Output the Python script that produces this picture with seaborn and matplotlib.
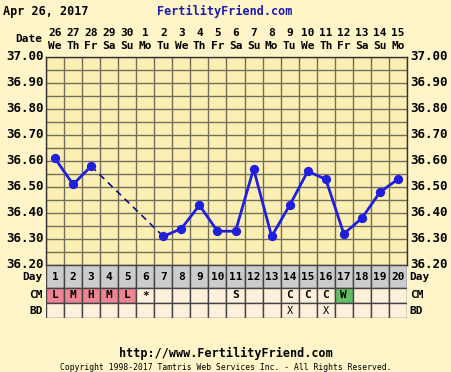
import numpy as np
import pandas as pd
import matplotlib
matplotlib.use('Agg')
import matplotlib.pyplot as plt
import seaborn as sns

# données
jours = list(range(1, 21))
dates = ['26', '27', '28', '29', '30', '1', '2', '3', '4', '5',
         '6', '7', '8', '9', '10', '11', '12', '13', '14', '15']
semaine = ['We', 'Th', 'Fr', 'Sa', 'Su', 'Mo', 'Tu', 'We', 'Th', 'Fr',
           'Sa', 'Su', 'Mo', 'Tu', 'We', 'Th', 'Fr', 'Sa', 'Su', 'Mo']
temp_jours = [1, 2, 3, 7, 8, 9, 10, 11, 12, 13, 14, 15, 16, 17, 18, 19, 20]
temp = [36.61, 36.51, 36.58, 36.31, 36.34, 36.43, 36.33, 36.33, 36.57,
        36.31, 36.43, 36.56, 36.53, 36.32, 36.38, 36.48, 36.53]
cm = ['L', 'M', 'H', 'M', 'L', '*', '', '', '', '', 'S', '', '', 'C', 'C', 'C',
      'W', '', '', '']
bd = ['', '', '', '', '', '', '', '', '', '', '', '', '', 'X', '', 'X', '', '', '', '']
yticks = [36.20, 36.30, 36.40, 36.50, 36.60, 36.70, 36.80, 36.90, 37.00]

fond = '#FFF5C8'
fond_graph = '#FCEFB3'
grille = '#746E5C'
bleu = '#1F1FE0'
cm_couleurs = {'L': '#EE8494', 'M': '#EE8494', 'H': '#EE8494', 'W': '#64C064'}

sns.set_style('white')
plt.rcParams['font.family'] = ['DejaVu Sans Mono', 'DejaVu Sans']
police = {'fontweight': 'bold', 'fontsize': 8, 'color': 'black'}

W, H = 452, 372
fig = plt.figure(figsize=(4.52, 3.72), dpi=100, facecolor=fond)

def px(x0, y0, x1, y1):
    '''position en pixels (haut-gauche) vers fractions de figure'''
    return [x0 / W, 1 - y1 / H, (x1 - x0) / W, (y1 - y0) / H]

# graphique des températures
ax = fig.add_axes(px(46, 57, 407, 265))
ax.set_facecolor(fond_graph)
ax.set_xlim(0.5, 20.5)
ax.set_ylim(36.20, 37.00)
for x in np.arange(0.5, 20.6, 1):
    ax.axvline(x, color=grille, lw=1, zorder=1)
for y in np.arange(36.20, 37.001, 0.05):
    ax.axhline(y, color=grille, lw=1, zorder=1)
for s in ax.spines.values():
    s.set_color('#333333')
    s.set_linewidth(1)
ax.set_xticks([])
ax.set_yticks([])

df = pd.DataFrame({'jour': temp_jours, 'temp': temp})
avant = df[df.jour <= 3]
apres = df[df.jour >= 7]
sns.lineplot(data=avant, x='jour', y='temp', ax=ax, color=bleu, lw=2, zorder=3)
sns.lineplot(data=apres, x='jour', y='temp', ax=ax, color=bleu, lw=2, zorder=3)
trou = df[(df.jour == 3) | (df.jour == 7)]
sns.lineplot(data=trou, x='jour', y='temp', ax=ax, color='#10108A', lw=1.2,
             linestyle=(0, (4, 3)), zorder=3)
sns.scatterplot(data=df, x='jour', y='temp', ax=ax, color=bleu, s=45,
                edgecolor=bleu, linewidth=0, zorder=4)
ax.set_xlabel('')
ax.set_ylabel('')

for v in yticks:
    ax.text(0.35, v, f'{v:.2f}', ha='right', va='center',
            fontweight='bold', fontsize=9, color='black')
    ax.text(20.68, v, f'{v:.2f}', ha='left', va='center',
            fontweight='bold', fontsize=9, color='black')

# dates en haut
for j, d, s in zip(jours, dates, semaine):
    ax.text(j, 37.092, d, ha='center', va='center', **police)
    ax.text(j, 37.043, s, ha='center', va='center', **police)
ax.text(0.3, 37.07, 'Date', ha='right', va='center', **police)

# tableau Day / CM / BD
tb = fig.add_axes(px(46, 265, 407, 318))
tb.set_xlim(0.5, 20.5)
tb.set_ylim(53, 0)
tb.axis('off')
rangs = [(0, 23, 'Day'), (23, 38, 'CM'), (38, 53, 'BD')]
for j in jours:
    tb.bar(j, 23, width=1, bottom=0, color='#CCCCCC', edgecolor='#444444', lw=1)
    c = cm_couleurs.get(cm[j - 1], '#FFF0DC')
    tb.bar(j, 15, width=1, bottom=23, color=c, edgecolor='#444444', lw=1)
    tb.bar(j, 15, width=1, bottom=38, color='#FFF0DC', edgecolor='#444444', lw=1)
    tb.text(j, 11.5, str(j), ha='center', va='center', **police)
    tb.text(j, 30.5, cm[j - 1], ha='center', va='center', **police)
    tb.text(j, 45.5, bd[j - 1], ha='center', va='center',
            fontsize=7.5, color='black')
for y0, y1, nom in rangs:
    tb.text(0.3, (y0 + y1) / 2, nom, ha='right', va='center', **police)
    tb.text(20.65, (y0 + y1) / 2, nom, ha='left', va='center', **police)

# titres et pied de page
fig.text(3 / W, 1 - 11 / H, 'Apr 26, 2017', ha='left', va='center',
         fontweight='bold', fontsize=8.5, color='black')
fig.text(225 / W, 1 - 11 / H, 'FertilityFriend.com', ha='center', va='center',
         fontweight='bold', fontsize=8.5, color='#1A1AB0')
fig.text(226 / W, 1 - 353 / H, 'http://www.FertilityFriend.com', ha='center',
         va='center', fontweight='bold', fontsize=8.5, color='black')
fig.text(226 / W, 1 - 367 / H,
         'Copyright 1998-2017 Tamtris Web Services Inc. - All Rights Reserved.',
         ha='center', va='center', fontsize=5.8, color='black')

fig.savefig('out.png', dpi=100, facecolor=fond)
